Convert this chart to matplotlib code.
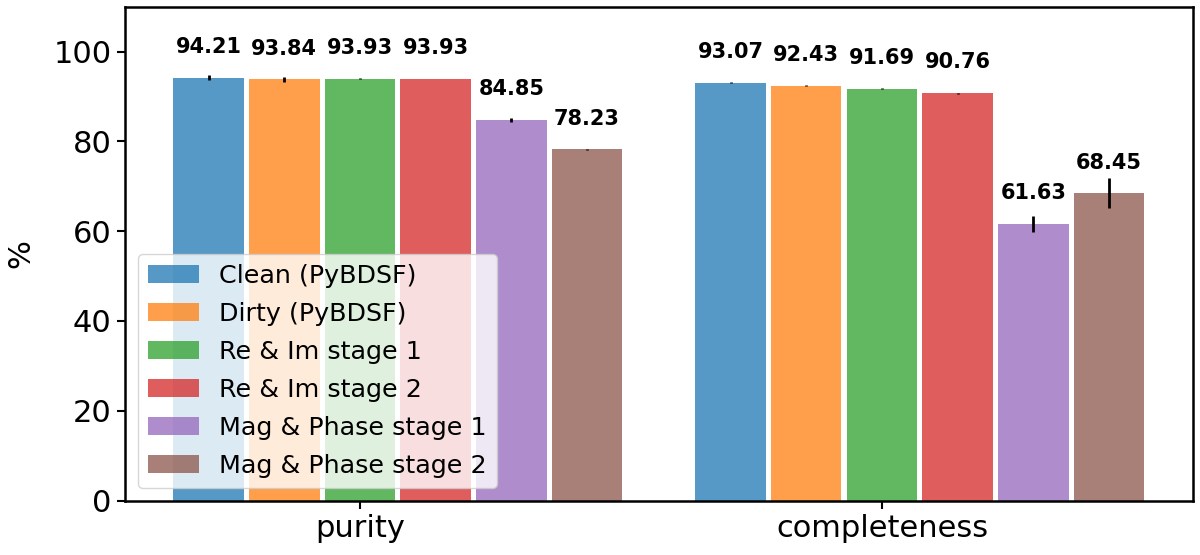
import numpy as np
import matplotlib
matplotlib.use("Agg")
import matplotlib.pyplot as plt

# Dados
metricas = ["purity", "completeness"]
metodos = [
    "Clean (PyBDSF)",
    "Dirty (PyBDSF)",
    "Re & Im stage 1",
    "Re & Im stage 2",
    "Mag & Phase stage 1",
    "Mag & Phase stage 2",
]
purity = [94.21, 93.84, 93.93, 93.93, 84.85, 78.23]
purity_err = [0.6, 0.6, 0.1, 0.05, 0.45, 0.1]
completeness = [93.07, 92.43, 91.69, 90.76, 61.63, 68.45]
completeness_err = [0.1, 0.1, 0.1, 0.1, 1.75, 3.3]

valores = np.array([purity, completeness])
erros = np.array([purity_err, completeness_err])

cores = ["tab:blue", "tab:orange", "tab:green", "tab:red", "tab:purple", "tab:brown"]

# Gráfico
fig = plt.figure(figsize=(12, 5.55), dpi=100)
ax = fig.add_axes([0.104, 0.098, 0.89, 0.89])

x = np.arange(len(metricas))
passo = 0.145
largura = 0.135

for i, metodo in enumerate(metodos):
    pos = x + (i - 2) * passo
    ax.bar(pos, valores[:, i], width=largura, color=cores[i], alpha=0.75,
           label=metodo, yerr=erros[:, i],
           error_kw=dict(ecolor="black", elinewidth=2, capsize=0))
    for xp, v in zip(pos, valores[:, i]):
        ax.text(xp, v + 4.6, f"{v:.2f}", ha="center", va="bottom",
                fontsize=15, fontweight="bold")

ax.set_ylim(0, 110)
ax.set_xticks(x)
ax.set_xticklabels(metricas)
ax.set_ylabel("%", fontsize=22, labelpad=13)
ax.tick_params(axis="both", labelsize=22, width=1.5, length=6)
for s in ax.spines.values():
    s.set_linewidth(1.8)

ax.legend(loc="lower left", fontsize=18.3, labelspacing=0.55, borderaxespad=0.5)

plt.savefig("out.png", dpi=100)
